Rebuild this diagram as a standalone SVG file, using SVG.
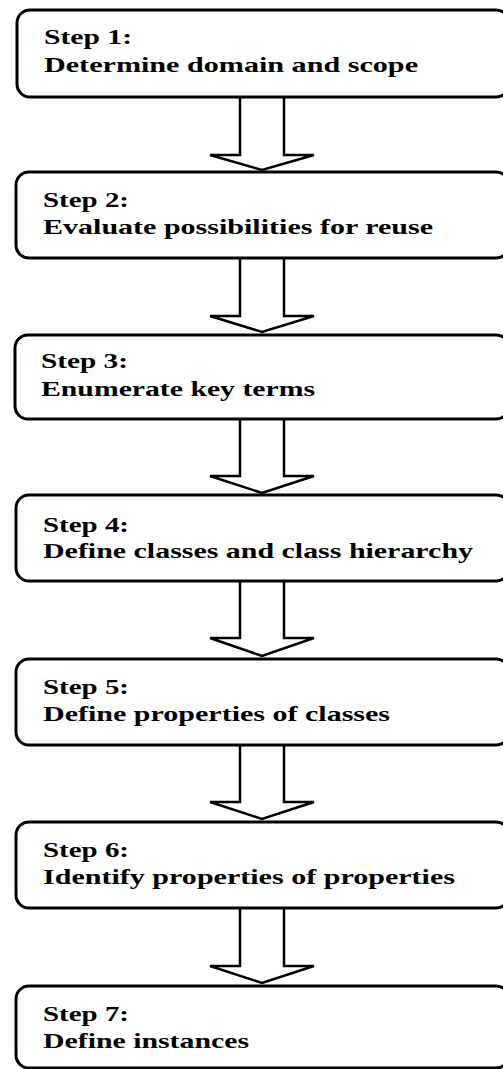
<svg xmlns="http://www.w3.org/2000/svg" width="503" height="1069" viewBox="0 0 503 1069">
  <style>
    .box { fill: #fff; stroke: #000; stroke-width: 3; }
    .arrow { fill: #fff; stroke: #000; stroke-width: 2.5; stroke-linejoin: miter; }
    .lbl { font-family: "Liberation Serif", "Times New Roman", serif; font-weight: bold; font-size: 22px; fill: #000; }
  </style>
  <rect width="503" height="1069" fill="#fff"/>

  <!-- block arrows between consecutive steps -->
  <g id="connectors">
    <path class="arrow" d="M240,98 V155 H210 L262,170 L314,155 H284 V98"/>
    <path class="arrow" d="M240,259 V316 H210 L262,332 L314,316 H284 V259"/>
    <path class="arrow" d="M240,420 V476 H210 L262,493 L314,476 H284 V420"/>
    <path class="arrow" d="M240,582 V638 H210 L262,656 L314,638 H284 V582"/>
    <path class="arrow" d="M240,746 V802 H210 L262,819 L314,802 H284 V746"/>
    <path class="arrow" d="M240,909 V966 H210 L262,983 L314,966 H284 V909"/>
  </g>

  <g id="step1">
    <rect class="box" x="17" y="10" width="492" height="87" rx="13"/>
    <text class="lbl" x="44" y="44" textLength="88" lengthAdjust="spacingAndGlyphs">Step 1:</text>
    <text class="lbl" x="44" y="72" textLength="374" lengthAdjust="spacingAndGlyphs">Determine domain and scope</text>
  </g>

  <g id="step2">
    <rect class="box" x="16" y="172" width="493" height="86" rx="13"/>
    <text class="lbl" x="43" y="207" textLength="86" lengthAdjust="spacingAndGlyphs">Step 2:</text>
    <text class="lbl" x="43" y="234" textLength="390" lengthAdjust="spacingAndGlyphs">Evaluate possibilities for reuse</text>
  </g>

  <g id="step3">
    <rect class="box" x="15" y="335" width="494" height="84" rx="13"/>
    <text class="lbl" x="41" y="368" textLength="87" lengthAdjust="spacingAndGlyphs">Step 3:</text>
    <text class="lbl" x="41" y="396" textLength="274" lengthAdjust="spacingAndGlyphs">Enumerate key terms</text>
  </g>

  <g id="step4">
    <rect class="box" x="16" y="495" width="493" height="86" rx="13"/>
    <text class="lbl" x="43" y="532" textLength="86" lengthAdjust="spacingAndGlyphs">Step 4:</text>
    <text class="lbl" x="43" y="558" textLength="430" lengthAdjust="spacingAndGlyphs">Define classes and class hierarchy</text>
  </g>

  <g id="step5">
    <rect class="box" x="16" y="659" width="493" height="86" rx="13"/>
    <text class="lbl" x="43" y="694" textLength="86" lengthAdjust="spacingAndGlyphs">Step 5:</text>
    <text class="lbl" x="43" y="721" textLength="347" lengthAdjust="spacingAndGlyphs">Define properties of classes</text>
  </g>

  <g id="step6">
    <rect class="box" x="16" y="822" width="493" height="86" rx="13"/>
    <text class="lbl" x="43" y="857" textLength="86" lengthAdjust="spacingAndGlyphs">Step 6:</text>
    <text class="lbl" x="43" y="884" textLength="412" lengthAdjust="spacingAndGlyphs">Identify properties of properties</text>
  </g>

  <g id="step7">
    <rect class="box" x="16" y="986" width="493" height="82" rx="13"/>
    <text class="lbl" x="43" y="1021" textLength="86" lengthAdjust="spacingAndGlyphs">Step 7:</text>
    <text class="lbl" x="43" y="1048" textLength="206" lengthAdjust="spacingAndGlyphs">Define instances</text>
  </g>
</svg>
